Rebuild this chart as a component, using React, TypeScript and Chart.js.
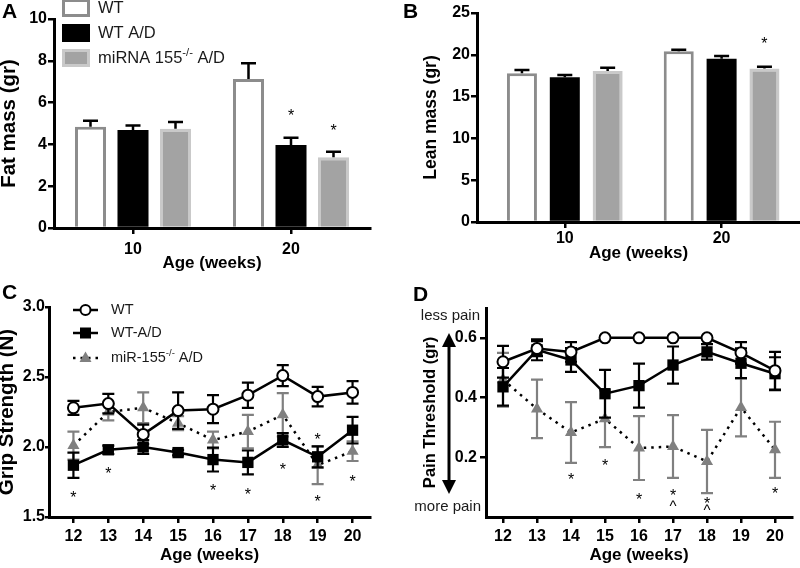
import React, { useEffect, useRef } from "react";
import { Chart, registerables } from "chart.js";

Chart.register(...registerables);

const FONT = "Arial, 'Liberation Sans', Helvetica, sans-serif";
const BLACK = "#000000";
const GREY = "#808080";
const WT_BAR_BORDER = "#8c8c8c";
const MIR_BAR_FILL = "#a3a3a3";
const MIR_BAR_BORDER = "#c9c9c9";

// ---------------- Panel A / B : bar data ----------------
const barAges = [10, 20];
const barLegendLabels = ["WT", "WT A/D", "miRNA 155^-/-^ A/D"];

const fatWT = [4.85, 7.13];
const fatWTErr = [0.28, 0.75];
const fatAD = [4.69, 3.97];
const fatADErr = [0.22, 0.35];
const fatMiR = [4.75, 3.38];
const fatMiRErr = [0.32, 0.27];
const fatADStars = [null, 5.6];
const fatMiRStars = [null, 4.85];
const fatTicks = [0, 2, 4, 6, 8, 10];

const leanWT = [17.8, 20.42];
const leanWTErr = [0.38, 0.17];
const leanAD = [17.3, 19.52];
const leanADErr = [0.28, 0.33];
const leanMiR = [18.06, 18.36];
const leanMiRErr = [0.4, 0.22];
const leanMiRStars = [null, 21.8];
const leanTicks = [0, 5, 10, 15, 20, 25];

// ---------------- Panel C / D : line data ----------------
const weekAges = [12, 13, 14, 15, 16, 17, 18, 19, 20];
const lineLegendLabels = ["WT", "WT-A/D", "miR-155^-/-^ A/D"];

const gripWT = [2.28, 2.31, 2.09, 2.26, 2.27, 2.37, 2.51, 2.36, 2.39];
const gripWTErr = [0.05, 0.07, 0.07, 0.13, 0.1, 0.09, 0.075, 0.07, 0.08];
const gripAD = [1.87, 1.98, 2.0, 1.96, 1.91, 1.89, 2.05, 1.93, 2.12];
const gripADErr = [0.09, 0.03, 0.05, 0.02, 0.085, 0.085, 0.05, 0.075, 0.095];
const gripMiR = [2.01, 2.25, 2.28, 2.17, 2.05, 2.11, 2.23, 1.87, 1.97];
const gripMiRErr = [0.1, 0.06, 0.11, 0.05, 0.06, 0.12, 0.155, 0.135, 0.07];
const gripStarAges = [12, 13, 16, 17, 18, 19, 19, 20];
const gripStarValues = [1.67, 1.84, 1.72, 1.69, 1.87, 2.08, 1.64, 1.78];
const gripTicks = [1.5, 2.0, 2.5, 3.0];

const painWT = [0.52, 0.564, 0.553, 0.6, 0.6, 0.6, 0.6, 0.55, 0.49];
const painWTErr = [0.053, 0.025, 0.033, 0, 0, 0, 0, 0.036, 0.063];
const painAD = [0.436, 0.56, 0.526, 0.413, 0.44, 0.509, 0.553, 0.515, 0.48];
const painADErr = [0.063, 0.035, 0.04, 0.08, 0.074, 0.062, 0.026, 0.05, 0.055];
const painMiR = [0.46, 0.362, 0.283, 0.329, 0.231, 0.236, 0.186, 0.367, 0.225];
const painMiRErr = [0.09, 0.098, 0.102, 0.095, 0.107, 0.105, 0.106, 0.097, 0.094];
const painStarAges = [14, 15, 16, 17, 18, 20];
const painStarValues = [0.138, 0.187, 0.074, 0.087, 0.06, 0.093];
const painCaretAges = [17, 18];
const painCaretValues = [0.044, 0.033];
const painTicks = [0.2, 0.4, 0.6];

// ---------------- helpers ----------------
type Pt = { x: number; y: number };
const pts = (xs: number[], ys: number[]): Pt[] => xs.map((x, i) => ({ x, y: ys[i] }));

type ErrSpec = { values: number[]; errors: number[]; color: string; both: boolean; cap: number; width: number };

function makeErrPlugin(specs: (ErrSpec | null)[], phase: "before" | "after") {
  const draw = (chart: any, args: any) => {
    const s = specs[args.index];
    if (!s) return;
    const meta = chart.getDatasetMeta(args.index);
    const ys = chart.scales.y;
    const ctx = chart.ctx;
    ctx.save();
    ctx.strokeStyle = s.color;
    ctx.lineWidth = s.width;
    ctx.lineCap = "butt";
    meta.data.forEach((el: any, i: number) => {
      const e = s.errors[i];
      if (!e) return;
      const v = s.values[i];
      const px = el.x;
      const top = ys.getPixelForValue(v + e);
      const bot = s.both ? ys.getPixelForValue(v - e) : ys.getPixelForValue(v);
      ctx.beginPath();
      ctx.moveTo(px, top);
      ctx.lineTo(px, bot);
      ctx.moveTo(px - s.cap / 2, top);
      ctx.lineTo(px + s.cap / 2, top);
      if (s.both) {
        ctx.moveTo(px - s.cap / 2, bot);
        ctx.lineTo(px + s.cap / 2, bot);
      }
      ctx.stroke();
    });
    ctx.restore();
  };
  return phase === "before"
    ? { id: "errBefore", beforeDatasetDraw: draw }
    : { id: "errAfter", afterDatasetDraw: draw };
}

function drawRich(ctx: CanvasRenderingContext2D, text: string, x: number, y: number, size: number, supScale = 0.62) {
  const parts = text.split("^");
  let cx = x;
  parts.forEach((p, i) => {
    const sup = i % 2 === 1;
    const fs = sup ? size * supScale : size;
    ctx.font = `normal ${fs}px ${FONT}`;
    ctx.textAlign = "left";
    ctx.textBaseline = "middle";
    ctx.fillText(p, cx, sup ? y - size * 0.33 : y);
    cx += ctx.measureText(p).width;
  });
}

function drawMark(ctx: CanvasRenderingContext2D, ch: string, x: number, y: number, size: number) {
  ctx.font = `normal ${size}px ${FONT}`;
  ctx.textAlign = "center";
  ctx.textBaseline = "alphabetic";
  ctx.fillStyle = BLACK;
  const off = ch === "*" ? 0.6 : 0.5;
  ctx.fillText(ch, x, y + off * size);
}

function drawLetter(ctx: CanvasRenderingContext2D, ch: string, x: number, baseline: number) {
  ctx.fillStyle = BLACK;
  ctx.font = `bold 21px ${FONT}`;
  ctx.textAlign = "left";
  ctx.textBaseline = "alphabetic";
  ctx.fillText(ch, x, baseline);
}

type AxisOpts = {
  pos: "left" | "bottom";
  min: number;
  max: number;
  size: number;
  ticks: number[];
  fmt?: (v: number) => string;
  title: string;
  titleSize: number;
  titlePad: number;
  tickPad: number;
  tickLen?: number;
};

function axis(o: AxisOpts) {
  return {
    type: "linear",
    position: o.pos,
    min: o.min,
    max: o.max,
    offset: false,
    border: { display: true, color: BLACK, width: 3 },
    grid: {
      display: true,
      offset: false,
      drawOnChartArea: false,
      drawTicks: true,
      tickLength: o.tickLen ?? 6,
      tickWidth: 2.5,
      tickColor: BLACK,
      lineWidth: 2.5,
      color: BLACK,
    },
    ticks: {
      color: BLACK,
      padding: o.tickPad,
      autoSkip: false,
      maxRotation: 0,
      minRotation: 0,
      font: { family: FONT, size: 16, weight: "bold" },
      callback: (v: any) => (o.fmt ? o.fmt(Number(v)) : String(v)),
    },
    afterBuildTicks: (s: any) => {
      s.ticks = o.ticks.map((v) => ({ value: v }));
    },
    afterFit: (s: any) => {
      if (o.pos === "left") s.width = o.size;
      else s.height = o.size;
    },
    title: {
      display: true,
      text: o.title,
      color: BLACK,
      font: { family: FONT, size: o.titleSize, weight: "bold", lineHeight: 1 },
      padding: o.pos === "left" ? { top: o.titlePad, bottom: 0 } : { top: 0, bottom: o.titlePad },
    },
  };
}

const baseOptions = (padding: any) => ({
  responsive: false,
  maintainAspectRatio: false,
  animation: false,
  devicePixelRatio: 1,
  events: [] as any[],
  layout: { padding },
  plugins: { legend: { display: false }, tooltip: { enabled: false } },
});

// ---------------- bar panels ----------------
function barDatasets(wt: number[], ad: number[], mir: number[], catPct: number, barPct: number) {
  return [
    { label: "WT", data: pts(barAges, wt), backgroundColor: "#ffffff", borderColor: WT_BAR_BORDER, borderWidth: 3, categoryPercentage: catPct, barPercentage: barPct },
    { label: "WT A/D", data: pts(barAges, ad), backgroundColor: BLACK, borderColor: BLACK, borderWidth: 0, categoryPercentage: catPct, barPercentage: barPct },
    { label: "miRNA 155-/- A/D", data: pts(barAges, mir), backgroundColor: MIR_BAR_FILL, borderColor: MIR_BAR_BORDER, borderWidth: 3, categoryPercentage: catPct, barPercentage: barPct },
  ];
}

function barErrSpecs(v: number[][], e: number[][]): ErrSpec[] {
  return v.map((vals, i) => ({ values: vals, errors: e[i], color: BLACK, both: false, cap: 15, width: 2.5 }));
}

function drawBarStars(chart: any, stars: ((number | null)[] | null)[]) {
  const ys = chart.scales.y;
  stars.forEach((arr, di) => {
    if (!arr) return;
    const meta = chart.getDatasetMeta(di);
    arr.forEach((v, i) => {
      if (v == null) return;
      drawMark(chart.ctx, "*", meta.data[i].x, ys.getPixelForValue(v), 16);
    });
  });
}

function buildA() {
  const deco = {
    id: "decoA",
    afterDraw(chart: any) {
      const ctx: CanvasRenderingContext2D = chart.ctx;
      ctx.save();
      drawLetter(ctx, "A", 2, 18);
      const rows = [8, 33, 58];
      const styles = [
        { fill: "#ffffff", stroke: WT_BAR_BORDER },
        { fill: BLACK, stroke: BLACK },
        { fill: MIR_BAR_FILL, stroke: MIR_BAR_BORDER },
      ];
      styles.forEach((st, i) => {
        const cy = rows[i];
        ctx.fillStyle = st.fill;
        ctx.fillRect(62, cy - 9, 28, 18);
        ctx.strokeStyle = st.stroke;
        ctx.lineWidth = 3;
        ctx.strokeRect(63.5, cy - 7.5, 25, 15);
        ctx.fillStyle = "#1a1a1a";
        drawRich(ctx, barLegendLabels[i], 98, cy, 16.5, 0.68);
      });
      drawBarStars(chart, [null, fatADStars, fatMiRStars]);
      ctx.restore();
    },
  };
  return {
    type: "bar",
    data: { datasets: barDatasets(fatWT, fatAD, fatMiR, 0.807, 0.73) },
    options: {
      ...baseOptions({ left: 0, right: 30, top: 19, bottom: 0 }),
      scales: {
        x: axis({ pos: "bottom", min: 5, max: 25, size: 52, ticks: barAges, title: "Age (weeks)", titleSize: 17, titlePad: 8.5, tickPad: 6.4 }),
        y: axis({ pos: "left", min: 0, max: 10, size: 54, ticks: fatTicks, title: "Fat mass (gr)", titleSize: 20.5, titlePad: -1, tickPad: 1 }),
      },
    },
    plugins: [makeErrPlugin(barErrSpecs([fatWT, fatAD, fatMiR], [fatWTErr, fatADErr, fatMiRErr]), "after"), deco],
  };
}

function buildB() {
  const deco = {
    id: "decoB",
    afterDraw(chart: any) {
      const ctx: CanvasRenderingContext2D = chart.ctx;
      ctx.save();
      drawLetter(ctx, "B", 3, 18);
      drawBarStars(chart, [null, null, leanMiRStars]);
      ctx.restore();
    },
  };
  return {
    type: "bar",
    data: { datasets: barDatasets(leanWT, leanAD, leanMiR, 0.82, 0.7) },
    options: {
      ...baseOptions({ left: 0, right: 0, top: 13, bottom: 0 }),
      scales: {
        x: axis({ pos: "bottom", min: 4.4, max: 25, size: 58, ticks: barAges, title: "Age (weeks)", titleSize: 17, titlePad: 18.5, tickPad: 1 }),
        y: axis({ pos: "left", min: 0, max: 25, size: 77, ticks: leanTicks, title: "Lean mass (gr)", titleSize: 17.5, titlePad: 22, tickPad: 1 }),
      },
    },
    plugins: [makeErrPlugin(barErrSpecs([leanWT, leanAD, leanMiR], [leanWTErr, leanADErr, leanMiRErr]), "after"), deco],
  };
}

// ---------------- line panels ----------------
function lineDatasets(wt: number[], ad: number[], mir: number[]) {
  return [
    {
      label: "WT",
      data: pts(weekAges, wt),
      borderColor: BLACK,
      borderWidth: 2.5,
      pointStyle: "circle",
      pointRadius: 5.5,
      pointBackgroundColor: "#ffffff",
      pointBorderColor: BLACK,
      pointBorderWidth: 2,
      tension: 0,
      fill: false,
    },
    {
      label: "WT-A/D",
      data: pts(weekAges, ad),
      borderColor: BLACK,
      borderWidth: 2.5,
      pointStyle: "rect",
      pointRadius: 8,
      pointBackgroundColor: BLACK,
      pointBorderColor: BLACK,
      pointBorderWidth: 0,
      tension: 0,
      fill: false,
    },
    {
      label: "miR-155-/- A/D",
      data: pts(weekAges, mir),
      borderColor: BLACK,
      borderWidth: 2.5,
      borderDash: [2.5, 5],
      pointStyle: "triangle",
      pointRadius: 7,
      pointBackgroundColor: GREY,
      pointBorderColor: GREY,
      pointBorderWidth: 0,
      tension: 0,
      fill: false,
    },
  ];
}

function lineErrSpecs(v: number[][], e: number[][]): ErrSpec[] {
  return v.map((vals, i) => ({ values: vals, errors: e[i], color: i === 2 ? GREY : BLACK, both: true, cap: 12, width: 2.2 }));
}

function buildC() {
  const deco = {
    id: "decoC",
    afterDraw(chart: any) {
      const ctx: CanvasRenderingContext2D = chart.ctx;
      const xs = chart.scales.x;
      const ys = chart.scales.y;
      ctx.save();
      drawLetter(ctx, "C", 2, 19);
      const rows = [30, 53, 78];
      const x0 = 73;
      const x1 = 98;
      const mx = (x0 + x1) / 2;
      rows.forEach((cy, i) => {
        ctx.strokeStyle = BLACK;
        ctx.lineWidth = 2.5;
        ctx.setLineDash(i === 2 ? [2.5, 5] : []);
        ctx.beginPath();
        ctx.moveTo(x0, cy);
        ctx.lineTo(x1, cy);
        ctx.stroke();
        ctx.setLineDash([]);
        if (i === 0) {
          ctx.fillStyle = "#fff";
          ctx.lineWidth = 2;
          ctx.beginPath();
          ctx.arc(mx, cy, 5, 0, Math.PI * 2);
          ctx.fill();
          ctx.stroke();
        } else if (i === 1) {
          ctx.fillStyle = BLACK;
          ctx.fillRect(mx - 5.5, cy - 5.5, 11, 11);
        } else {
          ctx.fillStyle = GREY;
          ctx.beginPath();
          ctx.moveTo(mx, cy - 6.5);
          ctx.lineTo(mx + 6, cy + 4);
          ctx.lineTo(mx - 6, cy + 4);
          ctx.closePath();
          ctx.fill();
        }
        ctx.fillStyle = "#1a1a1a";
        drawRich(ctx, lineLegendLabels[i], 111, cy, 14.5, 0.66);
      });
      gripStarAges.forEach((a, i) => drawMark(ctx, "*", xs.getPixelForValue(a), ys.getPixelForValue(gripStarValues[i]), 16));
      ctx.restore();
    },
  };
  return {
    type: "line",
    data: { datasets: lineDatasets(gripWT, gripAD, gripMiR) },
    options: {
      ...baseOptions({ left: 0, right: 30, top: 27, bottom: 0 }),
      scales: {
        x: axis({ pos: "bottom", min: 11.3, max: 20.5, size: 51, ticks: weekAges, title: "Age (weeks)", titleSize: 17, titlePad: 4.5, tickPad: 4.4 }),
        y: axis({ pos: "left", min: 1.5, max: 3.0, size: 49, ticks: gripTicks, fmt: (v) => v.toFixed(1), title: "Grip Strength (N)", titleSize: 20.5, titlePad: -3, tickPad: 0, tickLen: 4 }),
      },
    },
    plugins: [makeErrPlugin(lineErrSpecs([gripWT, gripAD, gripMiR], [gripWTErr, gripADErr, gripMiRErr]), "before"), deco],
  };
}

function buildD() {
  const deco = {
    id: "decoD",
    afterDraw(chart: any) {
      const ctx: CanvasRenderingContext2D = chart.ctx;
      const xs = chart.scales.x;
      const ys = chart.scales.y;
      ctx.save();
      drawLetter(ctx, "D", 13, 21);
      ctx.fillStyle = "#1a1a1a";
      ctx.font = `normal 15px ${FONT}`;
      ctx.textAlign = "right";
      ctx.textBaseline = "middle";
      ctx.fillText("less pain", 80, 36);
      ctx.fillText("more pain", 81, 227);
      const ax = 49;
      const top = 53;
      const bot = 214;
      ctx.strokeStyle = BLACK;
      ctx.lineWidth = 3;
      ctx.beginPath();
      ctx.moveTo(ax, top + 10);
      ctx.lineTo(ax, bot - 10);
      ctx.stroke();
      ctx.fillStyle = BLACK;
      ctx.beginPath();
      ctx.moveTo(ax, top);
      ctx.lineTo(ax + 7, top + 14);
      ctx.lineTo(ax - 7, top + 14);
      ctx.closePath();
      ctx.fill();
      ctx.beginPath();
      ctx.moveTo(ax, bot);
      ctx.lineTo(ax + 7, bot - 14);
      ctx.lineTo(ax - 7, bot - 14);
      ctx.closePath();
      ctx.fill();
      painStarAges.forEach((a, i) => drawMark(ctx, "*", xs.getPixelForValue(a), ys.getPixelForValue(painStarValues[i]), 16));
      painCaretAges.forEach((a, i) => drawMark(ctx, "^", xs.getPixelForValue(a), ys.getPixelForValue(painCaretValues[i]), 15));
      ctx.restore();
    },
  };
  return {
    type: "line",
    data: { datasets: lineDatasets(painWT, painAD, painMiR) },
    options: {
      ...baseOptions({ left: 0, right: 0, top: 28, bottom: 0 }),
      scales: {
        x: axis({ pos: "bottom", min: 11.5, max: 20.5, size: 51, ticks: weekAges, title: "Age (weeks)", titleSize: 17, titlePad: 4.5, tickPad: 4.4 }),
        y: axis({ pos: "left", min: 0, max: 0.7, size: 86, ticks: painTicks, fmt: (v) => v.toFixed(1), title: "Pain Threshold (gr)", titleSize: 16.5, titlePad: 21.75, tickPad: 3 }),
      },
    },
    plugins: [makeErrPlugin(lineErrSpecs([painWT, painAD, painMiR], [painWTErr, painADErr, painMiRErr]), "before"), deco],
  };
}

function Panel({ left, top, width, height, build }: { left: number; top: number; width: number; height: number; build: () => any }) {
  const ref = useRef<HTMLCanvasElement | null>(null);
  useEffect(() => {
    const c = ref.current;
    if (!c) return;
    const chart = new Chart(c, build());
    return () => chart.destroy();
  }, [build]);
  return (
    <canvas
      ref={ref}
      width={width}
      height={height}
      style={{ position: "absolute", left, top, width, height }}
    />
  );
}

export default function App() {
  return (
    <div style={{ position: "fixed", left: 0, top: 0, width: 800, height: 568, background: "#ffffff", overflow: "hidden" }}>
      <Panel left={0} top={0} width={400} height={280} build={buildA} />
      <Panel left={400} top={0} width={400} height={280} build={buildB} />
      <Panel left={0} top={280} width={400} height={288} build={buildC} />
      <Panel left={400} top={280} width={400} height={288} build={buildD} />
    </div>
  );
}
